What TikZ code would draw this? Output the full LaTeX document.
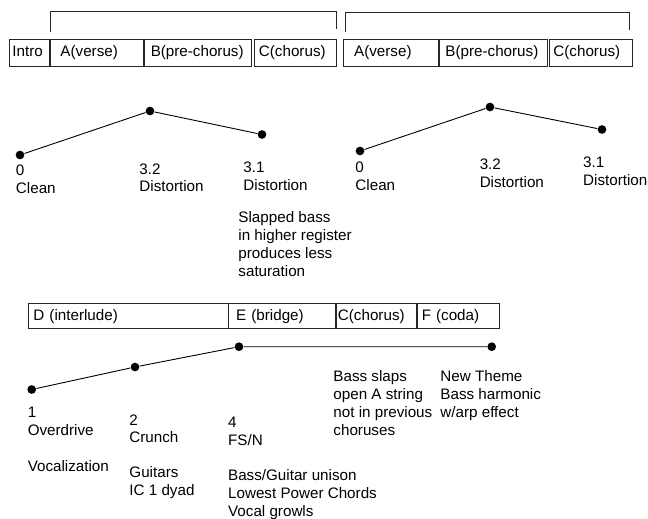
\documentclass[tikz,border=0pt]{standalone}
\usepackage{fontspec}
\setmainfont{Liberation Sans}
\begin{document}
\begin{tikzpicture}[x=1pt,y=-1pt,
  font=\fontsize{15.2}{17.8}\selectfont,
  line width=0.9pt,
  seg/.style={draw=black!85, rectangle, anchor=north west, inner ysep=0pt,
    align=left, text height=10.7pt, text depth=3.1pt},
  dot/.style={circle, fill=black, inner sep=0pt, minimum size=8.7pt},
  lbl/.style={anchor=base west, inner sep=0pt, align=left},
  conn/.style={draw=black, line width=0.9pt}]
\useasboundingbox (0,0) rectangle (648,519);

% ---------- top brackets ----------
\coordinate (b1a) at (50,31.7);
\coordinate (b1b) at (50,11.7);
\coordinate (b1c) at (336,11.7);
\coordinate (b1d) at (336,29);
\draw[black!85] (b1a) -- (b1b) -- (b1c) -- (b1d);
\coordinate (b2a) at (345,31.7);
\coordinate (b2b) at (345,12.3);
\coordinate (b2c) at (629,12.3);
\coordinate (b2d) at (629,30);
\draw[black!85] (b2a) -- (b2b) -- (b2c) -- (b2d);

% ---------- top boxes (row 1) ----------
\node[seg, minimum height=26.7pt, inner xsep=3pt, text width=34.3pt] (intro) at (9,39.3) {Intro};
\node[seg, minimum height=26.7pt, inner xsep=10pt, text width=72.7pt] (av1) at (50,39.3) {A(verse)};
\node[seg, minimum height=26.7pt, inner xsep=6pt, text width=94.7pt] (bp1) at (144.3,39.3) {B(pre-chorus)};
\node[seg, minimum height=26.7pt, inner xsep=4.5pt, text width=73pt] (cc1) at (254,39.3) {C(chorus)};

\node[seg, minimum height=26.7pt, inner xsep=11pt, text width=73.3pt] (av2) at (342.7,39.3) {A(verse)};
\node[seg, minimum height=26.7pt, inner xsep=6pt, text width=96pt] (bp2) at (439,39.3) {B(pre-chorus)};
\node[seg, minimum height=26.7pt, inner xsep=4pt, text width=75pt] (cc2) at (549,39.3) {C(chorus)};

% ---------- top-left curve ----------
\node[dot] (p1) at (20,155) {};
\node[dot] (p2) at (150,111) {};
\node[dot] (p3) at (262,134.5) {};
\draw[conn] (p1) -- (p2) -- (p3);
% (base = baseline of the last line)
\node[lbl] (l1) at (15.5,193.4) {0\\Clean};
\node[lbl] (l2) at (139,191.8) {3.2\\Distortion};
\node[lbl] (l3) at (243,190) {3.1\\Distortion};
\node[lbl] (l4) at (238,276) {Slapped bass\\in higher register\\produces less\\saturation};

% ---------- top-right curve ----------
\node[dot] (q1) at (360,151) {};
\node[dot] (q2) at (490,107) {};
\node[dot] (q3) at (602,129.5) {};
\draw[conn] (q1) -- (q2) -- (q3);
\node[lbl] (m1) at (355,190) {0\\Clean};
\node[lbl] (m2) at (479.3,187.5) {3.2\\Distortion};
\node[lbl] (m3) at (582.7,185) {3.1\\Distortion};

% ---------- bottom boxes ----------
\node[seg, minimum height=25pt, inner xsep=5pt, text width=189.7pt] (di) at (28,303.3) {D (interlude)};
\node[seg, minimum height=25pt, inner xsep=8pt, text width=91.3pt] (eb) at (227.7,303.3) {E (bridge)};
\node[seg, minimum height=25pt, inner xsep=1.5pt, text width=77pt] (cc3) at (336,303.3) {C(chorus)};
\node[seg, minimum height=25pt, inner xsep=4pt, text width=73.7pt] (fc) at (417.3,303.3) {F (coda)};

% ---------- bottom curve ----------
\node[dot] (r1) at (31.7,389.5) {};
\node[dot] (r2) at (135,367) {};
\node[dot] (r3) at (239,346.7) {};
\node[dot] (r4) at (491.7,346.7) {};
\draw[conn] (r1) -- (r2) -- (r3) -- (r4);

\node[lbl] (n1) at (27.3,471) {1\\Overdrive\\[18pt]Vocalization};
\node[lbl] (n2) at (129,495) {2\\Crunch\\[16.5pt]Guitars\\IC 1 dyad};
\node[lbl] (n3) at (227.7,516) {4\\FS/N\\[17pt]Bass/Guitar unison\\Lowest Power Chords\\Vocal growls};
\node[lbl] (n4) at (333,435) {Bass slaps\\open A string\\not in previous\\choruses};
\node[lbl] (n5) at (440,417.5) {New Theme\\Bass harmonic\\w/arp effect};
\end{tikzpicture}
\end{document}
